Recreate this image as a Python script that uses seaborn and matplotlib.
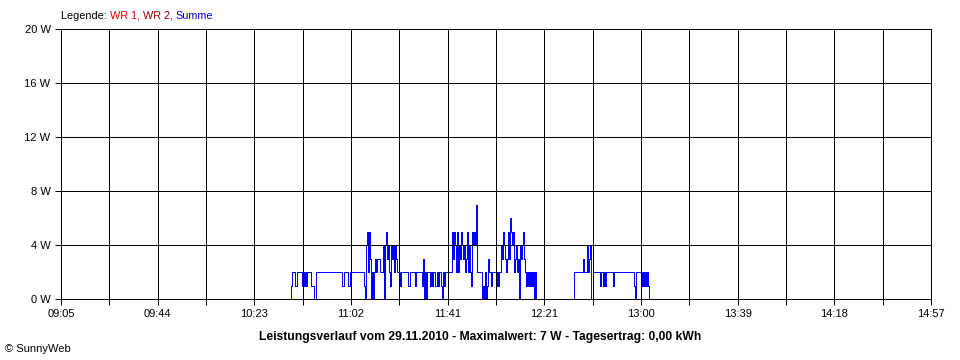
import numpy as np
import pandas as pd
import matplotlib
matplotlib.use("Agg")
import matplotlib.pyplot as plt
import seaborn as sns

# ---------------- data ----------------
x_tick_labels = ["09:05", "09:44", "10:23", "11:02", "11:41",
                 "12:21", "13:00", "13:39", "14:18", "14:57"]
x_start_min = 9 * 60 + 5      # 09:05
x_end_min = 14 * 60 + 57      # 14:57
y_ticks = [0, 4, 8, 12, 16, 20]
y_tick_labels = ["0 W", "4 W", "8 W", "12 W", "16 W", "20 W"]

# "Summe" power (W), one reading per display interval, starting 10:37:40
series_start_min = 10 * 60 + 37 + 40 / 60
step_seconds = 24.28
summe_w = [
    0,
    1, 2, 2, 2, 1, 1, 2, 2, 2, 2,
    2, 1, 2, 1, 2, 1, 2, 2, 2, 2,
    1, 1, 1, 0, 0, 2, 2, 2, 2, 2,
    2, 2, 2, 2, 2, 2, 2, 2, 2, 2,
    2, 2, 2, 2, 2, 2, 2, 2, 2, 2,
    2, 1, 1, 2, 2, 2, 2, 1, 1, 2,
    2, 2, 2, 2, 2, 2, 2, 2, 2, 2,
    2, 2, 2, 1, 0, 4, 5, 2, 5, 3,
    0, 2, 0, 2, 3, 2, 3, 3, 3, 2,
    2, 2, 4, 0, 4, 5, 3, 4, 2, 1,
    4, 3, 4, 2, 4, 3, 2, 2, 2, 1,
    2, 2, 2, 2, 2, 2, 2, 1, 1, 2,
    2, 2, 2, 2, 1, 2, 2, 2, 2, 2,
    2, 1, 3, 0, 2, 0, 2, 2, 2, 1,
    2, 1, 2, 2, 1, 1, 2, 1, 2, 2,
    1, 0, 2, 1, 2, 2, 2, 2, 2, 2,
    2, 5, 3, 5, 4, 2, 5, 2, 4, 3,
    5, 4, 3, 4, 2, 3, 5, 2, 4, 2,
    1, 5, 4, 5, 4, 7, 2, 2, 2, 2,
    2, 0, 1, 0, 2, 0, 1, 3, 2, 2,
    1, 2, 2, 2, 2, 1, 2, 1, 2, 2,
    4, 3, 5, 4, 3, 2, 3, 5, 3, 6,
    5, 4, 5, 2, 3, 4, 2, 3, 0, 4,
    3, 4, 5, 3, 2, 1, 2, 1, 2, 1,
    2, 1, 2, 0, 2, 0, 0, 0, 0, 0,
    0, 0, 0, 0, 0, 0, 0, 0, 0, 0,
    0, 0, 0, 0, 0, 0, 0, 0, 0, 0,
    0, 0, 0, 0, 0, 0, 0, 0, 0, 0,
    0, 0, 0, 2, 2, 2, 2, 2, 2, 2,
    2, 2, 3, 2, 2, 2, 4, 2, 3, 4,
    0, 0, 2, 2, 2, 2, 2, 2, 2, 1,
    2, 2, 1, 2, 1, 2, 2, 2, 2, 2,
    2, 2, 1, 2, 2, 2, 2, 2, 2, 2,
    2, 2, 2, 2, 2, 2, 2, 2, 2, 2,
    2, 2, 2, 1, 0, 2, 2, 2, 2, 2,
    2, 1, 2, 1, 2, 1, 2, 1,
    0,
]

title_text = "Leistungsverlauf vom 29.11.2010 - Maximalwert: 7 W - Tagesertrag: 0,00 kWh"
legend_parts = [("Legende: ", "#000000"), ("WR 1, ", "#FF0000"),
                ("WR 2, ", "#A00000"), ("Summe", "#0000FF")]

# ---------------- plot ----------------
sns.set_style("white")
plt.rcParams["font.family"] = ["Liberation Sans", "DejaVu Sans"]

W, H = 960, 360
LW = 0.72  # one pixel at 100 dpi
fig = plt.figure(figsize=(W / 100, H / 100), dpi=100)
ax = fig.add_axes([61 / W, (H - 299) / H, 870 / W, 270 / H])

times = series_start_min + np.arange(len(summe_w)) * step_seconds / 60.0
df = pd.DataFrame({"t": times, "w": summe_w})
sns.lineplot(data=df, x="t", y="w", ax=ax, estimator=None, color="#0000FF",
             linewidth=LW, drawstyle="steps-post", antialiased=False, zorder=2)

ax.set_xlim(x_start_min, x_end_min)
ax.set_ylim(0, 20)
ax.set_xlabel("")
ax.set_ylabel("")

grid_x = np.linspace(x_start_min, x_end_min, 19)
ax.set_xticks(grid_x)
labels = []
for i in range(19):
    labels.append(x_tick_labels[i // 2] if i % 2 == 0 else "")
ax.set_xticklabels(labels, fontsize=8)
ax.set_yticks(y_ticks)
ax.set_yticklabels(y_tick_labels, fontsize=8)
ax.tick_params(axis="both", direction="out", length=4.5, width=LW, color="black",
               labelcolor="black", pad=3, bottom=True, left=True)

ax.set_axisbelow(False)
ax.grid(True, color="black", linewidth=LW, antialiased=False)
for s in ax.spines.values():
    s.set_color("black")
    s.set_linewidth(LW)
    s.set_antialiased(False)
    s.set_zorder(5)

fig.text(480 / W, 1 - 337 / H, title_text, ha="center", va="center",
         fontsize=8.7, fontweight="bold", color="black")
fig.text(5 / W, 1 - 349 / H, "\u00a9 SunnyWeb", ha="left", va="center",
         fontsize=8, color="black")

# legend pieces in different colours
fig.canvas.draw()
renderer = fig.canvas.get_renderer()
x_px = 61
for txt, col in legend_parts:
    t = fig.text(x_px / W, 1 - 16 / H, txt, ha="left", va="center",
                 fontsize=7.8, color=col)
    bb = t.get_window_extent(renderer=renderer)
    x_px = bb.x1

fig.savefig("out.png", dpi=100, facecolor="white")
